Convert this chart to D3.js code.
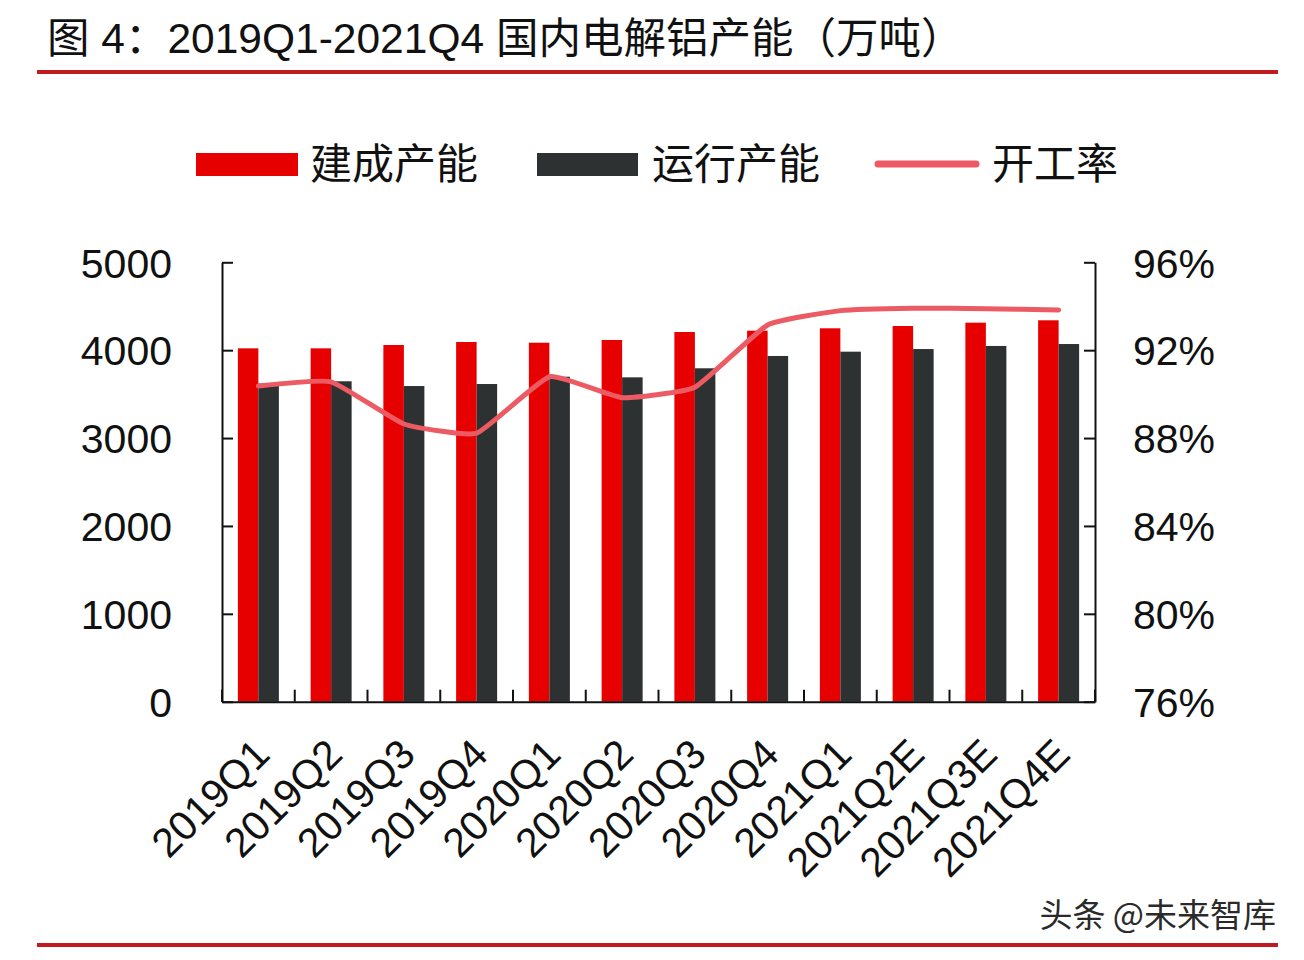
<!DOCTYPE html>
<html>
<head>
<meta charset="utf-8">
<script src="https://cdn.jsdelivr.net/npm/d3@7"></script>
<style>
  html, body { margin: 0; padding: 0; background: #ffffff; }
  svg { display: block; }
  text { font-family: "Liberation Sans", Arial, "Noto Sans CJK SC", sans-serif; fill: #111; }
</style>
</head>
<body>
<svg id="chart" width="1304" height="960"></svg>
<script>
// ---- data ----
const categories = ["2019Q1","2019Q2","2019Q3","2019Q4","2020Q1","2020Q2","2020Q3","2020Q4","2021Q1","2021Q2E","2021Q3E","2021Q4E"];
const builtCapacity   = [4021, 4021, 4059, 4093, 4085, 4116, 4207, 4222, 4249, 4275, 4313, 4340];
const runningCapacity = [3620, 3646, 3592, 3615, 3698, 3691, 3794, 3934, 3983, 4013, 4048, 4070];
const utilization     = [90.37, 90.56, 88.64, 88.22, 90.79, 89.84, 90.31, 93.15, 93.80, 93.91, 93.89, 93.83];
const leftTicks  = [0, 1000, 2000, 3000, 4000, 5000];
const rightTicks = [76, 80, 84, 88, 92, 96];
const seriesNames = ["建成产能", "运行产能", "开工率"];
const titleText = "图 4：2019Q1-2021Q4 国内电解铝产能（万吨）";
const sourceText = "头条 @未来智库";

// ---- style ----
const RED = "#e60000", DARK = "#2d3131", LINE = "#ec5b63", RULE = "#c21a1f";
const FS = 41;

const svg = d3.select("#chart");
const plot = { left: 222, right: 1095, top: 262.3, bottom: 701.7 };

// title + rules
svg.append("text").attr("x", 47).attr("y", 53).attr("font-size", 42.5).text(titleText);
svg.append("rect").attr("x", 37).attr("y", 70).attr("width", 1241).attr("height", 4).attr("fill", RULE);
svg.append("rect").attr("x", 37).attr("y", 943).attr("width", 1241).attr("height", 4).attr("fill", RULE);
svg.append("text").attr("x", 1276).attr("y", 927).attr("text-anchor", "end")
  .attr("font-size", 33).style("font-family", "'Noto Sans CJK SC', sans-serif").style("fill", "#2a2a2a").text(sourceText);

// scales
const x0 = d3.scaleBand().domain(categories).range([plot.left, plot.right]).padding(0);
const x1 = d3.scaleBand().domain(["built", "run"]).range([0, x0.bandwidth()]).paddingInner(0).paddingOuter(0.774);
const y = d3.scaleLinear().domain([0, 5000]).range([plot.bottom, plot.top]);
const yR = d3.scaleLinear().domain([76, 96]).range([plot.bottom, plot.top]);

const rows = categories.map((c, i) => ({ c, built: builtCapacity[i], run: runningCapacity[i], u: utilization[i] }));

// bars
const g = svg.append("g");
g.selectAll("rect.built").data(rows).join("rect").attr("class", "built")
  .attr("x", d => x0(d.c) + x1("built")).attr("width", x1.bandwidth())
  .attr("y", d => y(d.built)).attr("height", d => y(0) - y(d.built)).attr("fill", RED);
g.selectAll("rect.run").data(rows).join("rect").attr("class", "run")
  .attr("x", d => x0(d.c) + x1("run")).attr("width", x1.bandwidth())
  .attr("y", d => y(d.run)).attr("height", d => y(0) - y(d.run)).attr("fill", DARK);

// axes
const axStyle = sel => {
  sel.selectAll("path").attr("stroke", "#111").attr("stroke-width", 2);
  sel.selectAll("line").attr("stroke", "#111").attr("stroke-width", 2);
  sel.selectAll("text").attr("font-size", FS).style("fill", "#111")
    .style("font-family", "'Liberation Sans', Arial, sans-serif");
};
svg.append("g").attr("transform", `translate(${plot.left},0)`)
  .call(d3.axisLeft(y).tickValues(leftTicks).tickSizeInner(-11).tickSizeOuter(0).tickPadding(50).tickFormat(d3.format("d")))
  .call(axStyle).call(s => s.selectAll("text").attr("dy", "0.36em"));
svg.append("g").attr("transform", `translate(${plot.right},0)`)
  .call(d3.axisRight(yR).tickValues(rightTicks).tickSizeInner(-11).tickSizeOuter(0).tickPadding(38).tickFormat(d => d + "%"))
  .call(axStyle).call(s => s.selectAll("text").attr("dy", "0.36em"));

const xa = svg.append("g").attr("transform", `translate(0,${plot.bottom})`)
  .call(d3.axisBottom(x0).tickSize(0).tickSizeOuter(0).tickPadding(0))
  .call(axStyle);
xa.selectAll("text")
  .attr("text-anchor", "end")
  .attr("transform", "translate(13.5,55) rotate(-45)")
  .attr("dy", "0").attr("y", 0);
// boundary ticks (pointing up, inside)
const bounds = categories.map(c => x0(c)).concat([x0.range()[1]]);
xa.selectAll("line.bt").data(bounds).join("line").attr("class", "bt")
  .attr("x1", d => d).attr("x2", d => d).attr("y1", 0).attr("y2", -12)
  .attr("stroke", "#111").attr("stroke-width", 2);

// line
const line = d3.line().x(d => x0(d.c) + x0.bandwidth() / 2).y(d => yR(d.u)).curve(d3.curveCardinal.tension(0.6));
svg.append("path").datum(rows).attr("d", line).attr("fill", "none")
  .attr("stroke", LINE).attr("stroke-width", 5).attr("stroke-linecap", "round").attr("stroke-linejoin", "round");

// legend
const lg = svg.append("g");
const legendY = 164;
lg.append("rect").attr("x", 196).attr("y", legendY - 11).attr("width", 102).attr("height", 23).attr("fill", RED);
lg.append("text").attr("x", 310).attr("y", legendY).attr("dy", "0.36em").attr("font-size", 42).text(seriesNames[0]);
lg.append("rect").attr("x", 537).attr("y", legendY - 11).attr("width", 101).attr("height", 23).attr("fill", DARK);
lg.append("text").attr("x", 652).attr("y", legendY).attr("dy", "0.36em").attr("font-size", 42).text(seriesNames[1]);
lg.append("line").attr("x1", 878).attr("x2", 976).attr("y1", legendY).attr("y2", legendY)
  .attr("stroke", LINE).attr("stroke-width", 7).attr("stroke-linecap", "round");
lg.append("text").attr("x", 992).attr("y", legendY).attr("dy", "0.36em").attr("font-size", 42).text(seriesNames[2]);
</script>
</body>
</html>
